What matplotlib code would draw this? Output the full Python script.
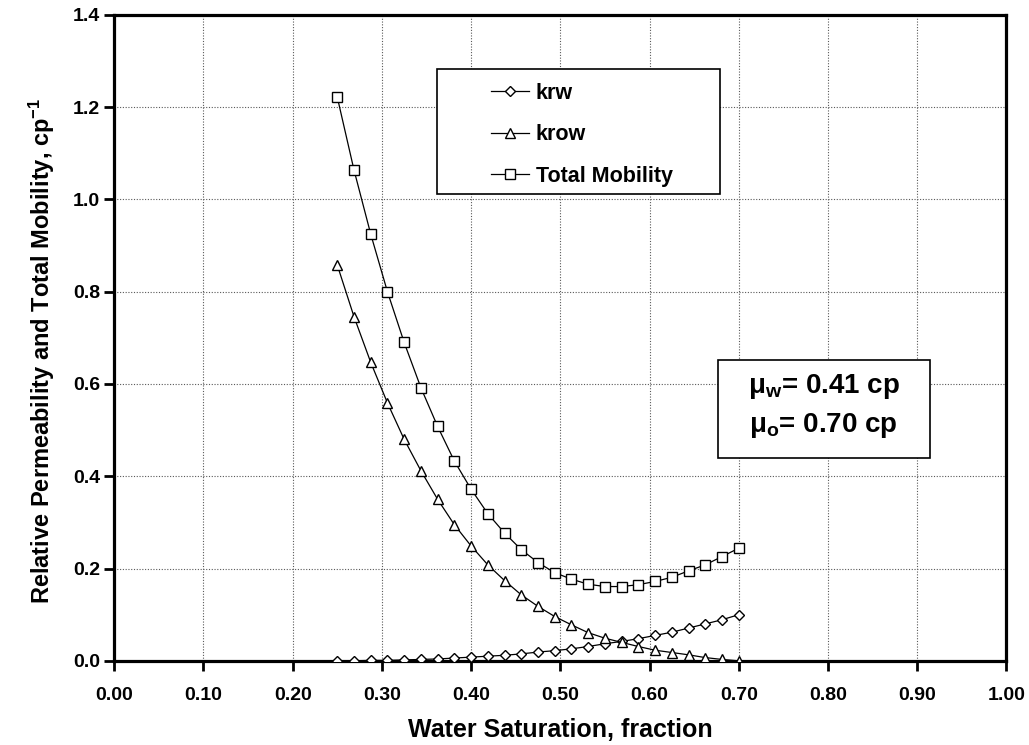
import numpy as np
import matplotlib
matplotlib.use("Agg")
import matplotlib.pyplot as plt
from matplotlib.patches import Rectangle

plt.rcParams['font.family'] = ['Liberation Sans', 'DejaVu Sans']
plt.rcParams['font.weight'] = 'bold'
plt.rcParams['mathtext.fontset'] = 'custom'
plt.rcParams['mathtext.rm'] = 'Liberation Sans:bold'
plt.rcParams['mathtext.bf'] = 'Liberation Sans:bold'
plt.rcParams['mathtext.it'] = 'Liberation Sans:bold'

# water saturation, 25 points from 0.25 to 0.70
sw = [0.25, 0.26875, 0.2875, 0.30625, 0.325, 0.34375, 0.3625, 0.38125, 0.40,
      0.41875, 0.4375, 0.45625, 0.475, 0.49375, 0.5125, 0.53125, 0.55,
      0.56875, 0.5875, 0.60625, 0.625, 0.64375, 0.6625, 0.68125, 0.70]

krw = [0.000, 0.000, 0.001, 0.001, 0.002, 0.003, 0.004, 0.006, 0.008, 0.010,
       0.012, 0.015, 0.019, 0.022, 0.026, 0.031, 0.037, 0.042, 0.048, 0.055,
       0.062, 0.071, 0.080, 0.089, 0.100]

krow = [0.858, 0.746, 0.647, 0.559, 0.480, 0.412, 0.350, 0.295, 0.249, 0.208,
        0.174, 0.143, 0.118, 0.096, 0.078, 0.061, 0.049, 0.040, 0.031, 0.023,
        0.018, 0.013, 0.007, 0.003, 0.000]

mobility = [1.222, 1.064, 0.925, 0.800, 0.690, 0.592, 0.508, 0.433, 0.372, 0.319,
            0.277, 0.241, 0.213, 0.191, 0.177, 0.166, 0.161, 0.161, 0.165, 0.172,
            0.181, 0.195, 0.208, 0.226, 0.244]

xticks = [0.0, 0.1, 0.2, 0.3, 0.4, 0.5, 0.6, 0.7, 0.8, 0.9, 1.0]
yticks = [0.0, 0.2, 0.4, 0.6, 0.8, 1.0, 1.2, 1.4]

fig = plt.figure(figsize=(10.29, 7.45), dpi=100)
ax = fig.add_axes([0.111, 0.113, 0.867, 0.867])

ax.plot(sw, krw, color='black', lw=0.9, marker='D', ms=5, mfc='white', mec='black', mew=1.0, label='krw', zorder=3)
ax.plot(sw, krow, color='black', lw=0.9, marker='^', ms=7.5, mfc='white', mec='black', mew=1.0, label='krow', zorder=3)
ax.plot(sw, mobility, color='black', lw=0.9, marker='s', ms=7.5, mfc='white', mec='black', mew=1.0, label='Total Mobility', zorder=3)

ax.set_xlim(0, 1.0)
ax.set_ylim(0, 1.4)
ax.set_xticks(xticks)
ax.set_yticks(yticks)
ax.set_xticklabels(['%.2f' % t for t in xticks])
ax.set_yticklabels(['%.1f' % t for t in yticks])
ax.tick_params(axis='both', direction='out', length=7, width=2, labelsize=14)
ax.tick_params(axis='x', pad=12)
ax.tick_params(axis='y', pad=3)

for s in ax.spines.values():
    s.set_linewidth(2.3)

ax.grid(True, linestyle=(0, (1, 1.5)), color='0.35', lw=0.8)
ax.set_axisbelow(True)

ax.set_xlabel('Water Saturation, fraction', fontsize=18, fontweight='bold')
ax.xaxis.set_label_coords(0.5, -0.088)
ax.set_ylabel('Relative Permeability and Total Mobility, cp$^{\\mathbf{-1}}$', fontsize=17, fontweight='bold')
ax.yaxis.set_label_coords(-0.064, 0.48)

# legend frame drawn as its own box
ax.add_patch(Rectangle((0.362, 0.723), 0.317, 0.193, transform=ax.transAxes,
                       facecolor='white', edgecolor='black', lw=1.2, zorder=4))
leg = ax.legend(loc='upper left', bbox_to_anchor=(0.422, 0.895), frameon=False,
                fontsize=15.5, handlelength=1.8, handletextpad=0.3, labelspacing=0.95,
                borderpad=0, borderaxespad=0)
leg.set_zorder(5)

# viscosity box
ax.add_patch(Rectangle((0.677, 0.314), 0.237, 0.152, transform=ax.transAxes,
                       facecolor='white', edgecolor='black', lw=1.2, zorder=4))
ax.text(0.795, 0.424, '\u03bc$_{\\mathbf{w}}$= 0.41 cp', transform=ax.transAxes,
        ha='center', va='center', fontsize=20, fontweight='bold', zorder=5)
ax.text(0.795, 0.364, '\u03bc$_{\\mathbf{o}}$= 0.70 cp', transform=ax.transAxes,
        ha='center', va='center', fontsize=20, fontweight='bold', zorder=5)

fig.savefig('out.png', dpi=100)
